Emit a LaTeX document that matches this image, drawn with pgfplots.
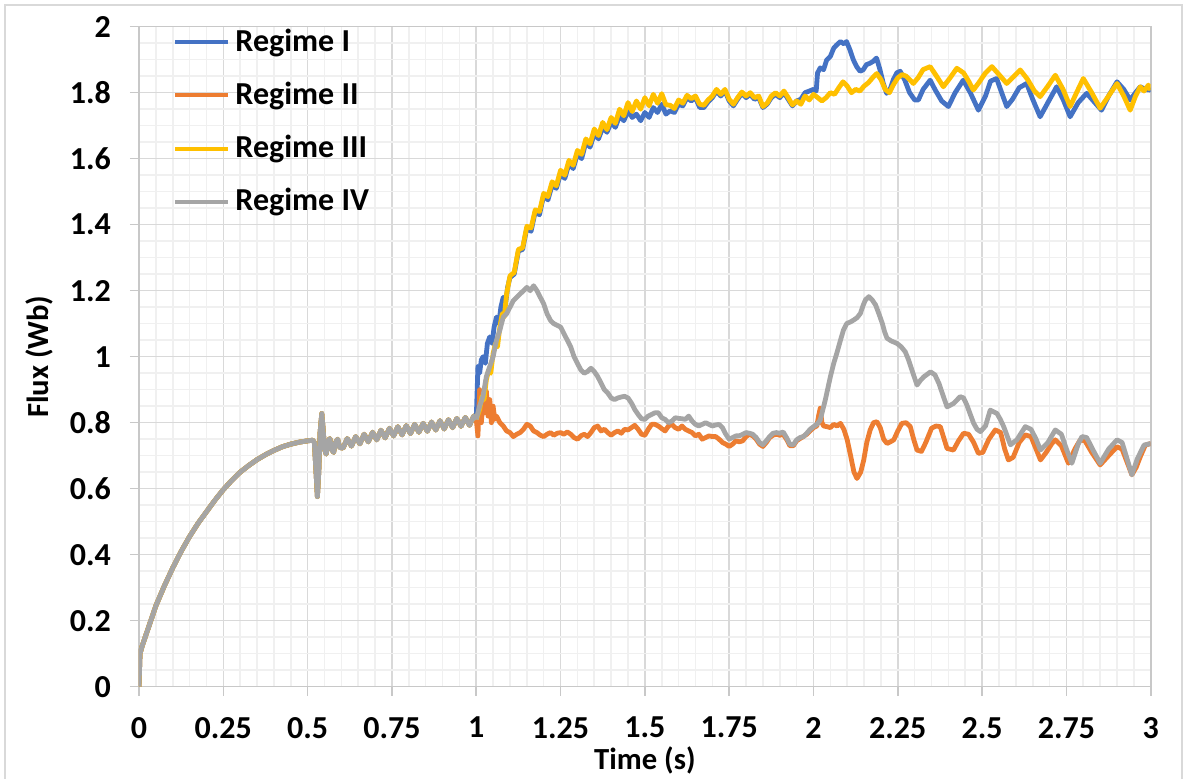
\documentclass[border=0pt]{standalone}
\usepackage{pgfplots}
\usepackage{pgfplotstable}
\pgfplotsset{compat=1.18}
\usepackage{fontspec}
\setmainfont{Carlito}
\definecolor{cI}{HTML}{4472C4}
\definecolor{cII}{HTML}{ED7D31}
\definecolor{cIII}{HTML}{FFC000}
\definecolor{cIV}{HTML}{A5A5A5}
\definecolor{gmaj}{HTML}{D9D9D9}
\definecolor{gmin}{HTML}{F0F0F0}
\definecolor{axl}{HTML}{C8C8C8}

\pgfplotstableread{
t v
0 0
0.003 0.1
0.01 0.125
0.025 0.17
0.05 0.245
0.075 0.305
0.1 0.36
0.125 0.41
0.15 0.455
0.175 0.495
0.2 0.53
0.225 0.565
0.25 0.597
0.275 0.625
0.3 0.65
0.325 0.67
0.35 0.688
0.375 0.703
0.4 0.716
0.425 0.727
0.45 0.735
0.475 0.741
0.5 0.745
0.515 0.747
0.52 0.74
0.525 0.65
0.529 0.576
0.533 0.65
0.537 0.77
0.542 0.828
0.546 0.78
0.55 0.72
0.555 0.705
0.561 0.745
0.566 0.752
0.571 0.72
0.577 0.71
0.583 0.74
0.589 0.75
0.595 0.725
0.605 0.723
0.6175 0.752
0.63 0.729
0.6425 0.758
0.655 0.736
0.6675 0.765
0.68 0.742
0.6925 0.771
0.705 0.748
0.7175 0.777
0.73 0.754
0.7425 0.783
0.755 0.760
0.7675 0.788
0.78 0.763
0.7925 0.791
0.805 0.767
0.8175 0.795
0.83 0.771
0.8425 0.798
0.855 0.774
0.8675 0.802
0.88 0.778
0.8925 0.806
0.905 0.781
0.9175 0.809
0.93 0.785
0.9425 0.813
0.955 0.789
0.9675 0.816
0.98 0.792
0.9925 0.820
1.0 0.81
}\common

\pgfplotstableread{
t v
1.0 0.81
1.005 0.97
1.01 0.95
1.015 0.99
1.02 1.0
1.027 0.98
1.033 1.04
1.04 1.06
1.047 1.04
1.053 1.09
1.06 1.12
1.067 1.1
1.073 1.15
1.08 1.18
1.087 1.16
1.093 1.21
1.1 1.24
1.1125 1.25
1.125 1.32
1.1375 1.325
1.15 1.39
1.1625 1.38
1.175 1.44
1.1875 1.43
1.2 1.49
1.2125 1.475
1.225 1.52
1.2375 1.51
1.25 1.555
1.2625 1.54
1.275 1.585
1.2875 1.57
1.3 1.615
1.3125 1.6
1.325 1.65
1.3375 1.635
1.35 1.675
1.3625 1.66
1.375 1.695
1.3875 1.68
1.4 1.71
1.4125 1.695
1.425 1.73
1.4375 1.715
1.45 1.745
1.4625 1.725
1.475 1.735
1.4875 1.715
1.5 1.74
1.5125 1.725
1.525 1.755
1.5375 1.74
1.55 1.765
1.5625 1.735
1.575 1.745
1.5875 1.74
1.6 1.765
1.6125 1.76
1.625 1.785
1.6375 1.775
1.65 1.785
1.6625 1.755
1.675 1.755
1.6875 1.772
1.7 1.785
1.7125 1.805
1.725 1.79
1.7375 1.805
1.75 1.775
1.7625 1.76
1.775 1.78
1.7875 1.798
1.8 1.785
1.8125 1.795
1.825 1.78
1.8375 1.785
1.85 1.755
1.8625 1.765
1.875 1.785
1.8875 1.795
1.9 1.785
1.9125 1.8
1.925 1.78
1.9375 1.76
1.95 1.775
1.9625 1.78
1.975 1.8
1.9875 1.805
2.0 1.81
2.008 1.805
2.012 1.86
2.02 1.875
2.03 1.87
2.039 1.899
2.05 1.91
2.06 1.935
2.068 1.944
2.08 1.955
2.09 1.948
2.098 1.955
2.108 1.93
2.118 1.9
2.128 1.879
2.138 1.865
2.147 1.869
2.157 1.885
2.167 1.889
2.177 1.895
2.187 1.905
2.197 1.87
2.207 1.828
2.217 1.798
2.227 1.81
2.237 1.84
2.247 1.86
2.257 1.865
2.27 1.84
2.285 1.8
2.3 1.778
2.311 1.778
2.325 1.81
2.346 1.838
2.36 1.81
2.38 1.775
2.4 1.758
2.42 1.8
2.444 1.838
2.465 1.8
2.489 1.747
2.51 1.79
2.525 1.835
2.543 1.843
2.558 1.8
2.573 1.758
2.59 1.78
2.61 1.815
2.632 1.828
2.65 1.78
2.672 1.727
2.695 1.77
2.721 1.818
2.74 1.78
2.761 1.727
2.785 1.77
2.81 1.798
2.83 1.775
2.854 1.747
2.875 1.79
2.9 1.833
2.92 1.81
2.939 1.778
2.955 1.8
2.969 1.818
2.985 1.81
3.0 1.808
}\regI

\pgfplotstableread{
t v
1.0 0.81
1.005 0.76
1.01 0.9
1.015 0.80
1.02 0.86
1.025 0.83
1.03 0.895
1.035 0.82
1.04 0.87
1.045 0.8
1.05 0.85
1.055 0.81
1.06 0.82
1.07 0.8
1.08 0.79
1.09 0.775
1.1 0.77
1.11 0.758
1.12 0.765
1.13 0.77
1.14 0.78
1.15 0.795
1.16 0.79
1.17 0.775
1.18 0.77
1.19 0.762
1.2 0.758
1.21 0.765
1.22 0.77
1.23 0.762
1.24 0.768
1.25 0.77
1.26 0.765
1.27 0.772
1.28 0.765
1.29 0.755
1.3 0.75
1.31 0.76
1.32 0.765
1.33 0.758
1.34 0.77
1.35 0.785
1.36 0.79
1.37 0.775
1.38 0.78
1.39 0.77
1.4 0.762
1.41 0.77
1.42 0.775
1.43 0.768
1.44 0.78
1.45 0.778
1.46 0.785
1.47 0.792
1.48 0.78
1.49 0.765
1.5 0.762
1.51 0.78
1.52 0.795
1.53 0.795
1.54 0.79
1.55 0.782
1.56 0.775
1.57 0.79
1.58 0.795
1.59 0.785
1.6 0.78
1.61 0.79
1.62 0.78
1.63 0.775
1.64 0.77
1.65 0.76
1.66 0.765
1.67 0.75
1.68 0.755
1.69 0.76
1.7 0.758
1.71 0.758
1.72 0.75
1.73 0.74
1.74 0.735
1.75 0.728
1.76 0.735
1.77 0.745
1.78 0.742
1.79 0.745
1.8 0.758
1.81 0.765
1.82 0.76
1.83 0.75
1.84 0.735
1.85 0.728
1.86 0.74
1.87 0.755
1.88 0.762
1.89 0.765
1.9 0.762
1.91 0.765
1.92 0.75
1.93 0.73
1.94 0.73
1.95 0.745
1.96 0.752
1.97 0.758
1.98 0.765
1.99 0.775
2.0 0.785
2.01 0.79
2.015 0.82
2.02 0.844
2.025 0.8
2.03 0.79
2.04 0.788
2.05 0.785
2.06 0.795
2.07 0.79
2.08 0.798
2.09 0.78
2.1 0.748
2.11 0.7
2.12 0.65
2.129 0.631
2.14 0.65
2.149 0.687
2.158 0.74
2.168 0.778
2.178 0.8
2.188 0.803
2.198 0.785
2.208 0.75
2.218 0.737
2.228 0.742
2.238 0.748
2.25 0.775
2.262 0.798
2.275 0.8
2.287 0.788
2.297 0.75
2.307 0.717
2.32 0.713
2.333 0.74
2.35 0.783
2.363 0.79
2.376 0.788
2.386 0.755
2.396 0.722
2.415 0.717
2.43 0.745
2.445 0.768
2.46 0.765
2.475 0.74
2.489 0.707
2.502 0.71
2.52 0.75
2.539 0.778
2.555 0.77
2.567 0.72
2.578 0.687
2.592 0.695
2.61 0.74
2.628 0.763
2.645 0.758
2.66 0.72
2.673 0.687
2.69 0.71
2.707 0.737
2.717 0.748
2.735 0.73
2.756 0.677
2.775 0.72
2.791 0.748
2.805 0.745
2.825 0.71
2.85 0.672
2.875 0.7
2.9 0.727
2.915 0.72
2.93 0.68
2.944 0.642
2.957 0.665
2.969 0.697
2.984 0.732
3.0 0.737
}\regII

\pgfplotstableread{
t v
1.0 0.81
1.01 0.84
1.017 0.88
1.023 0.87
1.03 0.93
1.037 0.96
1.043 0.95
1.05 1.01
1.057 1.04
1.063 1.03
1.07 1.09
1.077 1.13
1.083 1.12
1.09 1.19
1.1 1.245
1.1125 1.255
1.125 1.325
1.1375 1.33
1.15 1.395
1.1625 1.39
1.175 1.445
1.1875 1.44
1.2 1.495
1.2125 1.485
1.225 1.53
1.2375 1.518
1.25 1.565
1.2625 1.55
1.275 1.595
1.2875 1.58
1.3 1.625
1.3125 1.613
1.325 1.66
1.3375 1.645
1.35 1.69
1.3625 1.67
1.375 1.71
1.3875 1.688
1.4 1.725
1.4125 1.707
1.425 1.75
1.4375 1.73
1.45 1.77
1.4625 1.743
1.475 1.775
1.4875 1.75
1.5 1.785
1.5125 1.76
1.525 1.795
1.5375 1.768
1.55 1.797
1.5625 1.763
1.575 1.762
1.5875 1.752
1.6 1.778
1.6125 1.768
1.625 1.792
1.6375 1.782
1.65 1.79
1.6625 1.765
1.675 1.762
1.6875 1.778
1.7 1.79
1.7125 1.81
1.725 1.795
1.7375 1.81
1.75 1.78
1.7625 1.765
1.775 1.785
1.7875 1.802
1.8 1.79
1.8125 1.8
1.825 1.785
1.8375 1.79
1.85 1.758
1.8625 1.768
1.875 1.79
1.8875 1.8
1.9 1.79
1.9125 1.805
1.925 1.785
1.9375 1.763
1.95 1.775
1.9625 1.765
1.975 1.79
1.9875 1.778
2.0 1.795
2.0125 1.785
2.025 1.775
2.0375 1.785
2.05 1.8
2.0625 1.795
2.075 1.815
2.0875 1.833
2.1 1.82
2.1125 1.8
2.125 1.81
2.1375 1.805
2.15 1.82
2.1625 1.83
2.175 1.845
2.1875 1.858
2.2 1.84
2.2125 1.81
2.225 1.8
2.2375 1.825
2.25 1.845
2.2625 1.855
2.275 1.85
2.296 1.828
2.31 1.845
2.325 1.87
2.346 1.879
2.365 1.85
2.385 1.818
2.405 1.845
2.425 1.874
2.445 1.86
2.46 1.835
2.474 1.808
2.49 1.83
2.51 1.86
2.529 1.879
2.55 1.855
2.573 1.828
2.59 1.845
2.613 1.869
2.635 1.84
2.655 1.805
2.672 1.788
2.695 1.82
2.717 1.853
2.74 1.81
2.761 1.758
2.78 1.8
2.8 1.843
2.825 1.8
2.85 1.753
2.875 1.79
2.9 1.828
2.92 1.79
2.939 1.747
2.955 1.79
2.969 1.818
2.98 1.805
2.993 1.823
3.0 1.808
}\regIII

\pgfplotstableread{
t v
1.0 0.81
1.01 0.85
1.02 0.88
1.03 0.94
1.04 0.97
1.05 1.0
1.06 1.05
1.07 1.08
1.08 1.12
1.09 1.13
1.1 1.15
1.11 1.17
1.12 1.18
1.13 1.19
1.14 1.2
1.15 1.21
1.16 1.2
1.17 1.215
1.18 1.2
1.19 1.18
1.2 1.16
1.21 1.13
1.22 1.11
1.23 1.1
1.24 1.095
1.25 1.09
1.26 1.07
1.27 1.05
1.28 1.03
1.29 1.0
1.3 0.98
1.31 0.96
1.32 0.95
1.33 0.955
1.34 0.965
1.35 0.955
1.36 0.94
1.37 0.92
1.38 0.9
1.39 0.89
1.4 0.875
1.41 0.87
1.42 0.875
1.43 0.878
1.44 0.88
1.45 0.875
1.46 0.86
1.47 0.84
1.48 0.825
1.49 0.812
1.5 0.81
1.51 0.82
1.52 0.825
1.53 0.83
1.54 0.83
1.55 0.815
1.56 0.81
1.57 0.8
1.58 0.805
1.59 0.815
1.6 0.813
1.61 0.812
1.62 0.81
1.63 0.82
1.64 0.805
1.65 0.795
1.66 0.79
1.67 0.795
1.68 0.8
1.69 0.795
1.7 0.79
1.71 0.793
1.72 0.795
1.73 0.785
1.74 0.765
1.75 0.75
1.76 0.755
1.77 0.76
1.78 0.76
1.79 0.765
1.8 0.77
1.81 0.768
1.82 0.765
1.83 0.755
1.84 0.74
1.85 0.733
1.86 0.745
1.87 0.758
1.88 0.768
1.89 0.77
1.9 0.768
1.91 0.772
1.92 0.755
1.93 0.735
1.94 0.733
1.95 0.748
1.96 0.755
1.97 0.758
1.98 0.768
1.99 0.78
2.0 0.788
2.01 0.795
2.02 0.808
2.035 0.869
2.05 0.939
2.06 0.98
2.069 1.01
2.08 1.05
2.089 1.081
2.099 1.101
2.109 1.105
2.119 1.111
2.129 1.118
2.139 1.131
2.147 1.155
2.154 1.172
2.164 1.182
2.174 1.172
2.184 1.157
2.194 1.13
2.204 1.101
2.211 1.075
2.218 1.056
2.23 1.048
2.248 1.04
2.26 1.03
2.272 1.015
2.282 0.99
2.292 0.959
2.307 0.914
2.317 0.928
2.327 0.939
2.347 0.954
2.36 0.945
2.372 0.919
2.385 0.88
2.396 0.848
2.415 0.858
2.435 0.879
2.445 0.875
2.455 0.853
2.465 0.825
2.475 0.798
2.485 0.78
2.495 0.773
2.51 0.79
2.524 0.838
2.544 0.828
2.554 0.81
2.564 0.788
2.584 0.733
2.603 0.748
2.628 0.788
2.645 0.78
2.66 0.75
2.673 0.717
2.695 0.74
2.717 0.778
2.735 0.765
2.75 0.72
2.766 0.677
2.785 0.735
2.796 0.758
2.81 0.755
2.83 0.715
2.85 0.677
2.875 0.72
2.9 0.748
2.915 0.74
2.93 0.69
2.944 0.642
2.96 0.69
2.98 0.732
3.0 0.737
}\regIV

\begin{document}
\begin{tikzpicture}[x=0.375pt,y=0.375pt]
\useasboundingbox (0,0) rectangle (1184,778);
\draw[gmaj, line width=0.7pt] (5,-20) -- (5,773) -- (1182,773) -- (1182,-20);
\begin{axis}[
  at={(52.125pt,34.24pt)}, anchor=south west,
  scale only axis, width=379.4pt, height=247.5pt,
  xmin=0, xmax=3, ymin=0, ymax=2,
  xtick={0,0.25,0.5,0.75,1,1.25,1.5,1.75,2,2.25,2.5,2.75,3},
  xticklabels={0,0.25,0.5,0.75,1,1.25,1.5,1.75,2,2.25,2.5,2.75,3},
  ytick={0,0.2,0.4,0.6,0.8,1,1.2,1.4,1.6,1.8,2},
  yticklabels={0,0.2,0.4,0.6,0.8,1,1.2,1.4,1.6,1.8,2},
  minor x tick num=4, minor y tick num=3,
  grid=both,
  major grid style={draw=gmaj, line width=0.6pt},
  minor grid style={draw=gmin, line width=0.6pt},
  tick pos=left, tick align=outside,
  major tick length=3.4pt, minor tick length=0pt,
  every tick/.style={draw=axl, line width=0.6pt},
  axis line style={draw=axl, line width=0.6pt},
  ticklabel style={font=\bfseries\fontsize{12}{14}\selectfont, text=black},
  xticklabel style={yshift=-4.5pt},
  yticklabel style={xshift=-3.6pt},
  label style={font=\bfseries\fontsize{11.5}{14}\selectfont, text=black},
  xlabel={Time (s)}, ylabel={Flux (Wb)},
  xlabel style={at={(axis description cs:0.5,-0.111)}, anchor=center},
  ylabel style={at={(axis description cs:-0.098,0.5)}, anchor=center},
  legend style={at={(axis description cs:0.025,1.0)}, anchor=north west, yshift=3.3pt,
    draw=none, fill=none, font=\bfseries\fontsize{12}{14}\selectfont, row sep=6pt},
  legend cell align=left,
  legend image code/.code={\draw[#1, line width=1.5pt] (0pt,0pt) -- (20pt,0pt);},
  every axis plot/.append style={line width=1.8pt, line join=round},
]
\addplot[cI, forget plot] table {\common};
\addplot[cI] table {\regI};
\addlegendentry{Regime I}
\addplot[cII, forget plot] table {\common};
\addplot[cII] table {\regII};
\addlegendentry{Regime II}
\addplot[cIII, forget plot] table {\common};
\addplot[cIII] table {\regIII};
\addlegendentry{Regime III}
\addplot[cIV] table {\common};
\addlegendentry{Regime IV}
\addplot[cIV, forget plot] table {\regIV};
\end{axis}
\end{tikzpicture}
\end{document}
